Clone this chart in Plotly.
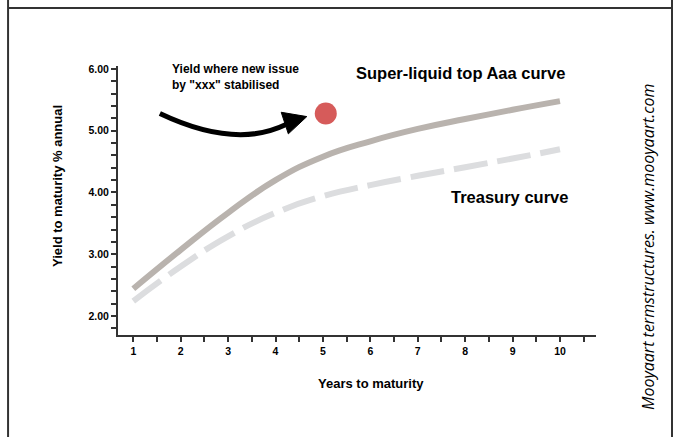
import plotly.graph_objects as go

# Term structure data (years to maturity vs yield, % annual)
years = [1, 2, 3, 4, 5, 6, 7, 8, 9, 10]
aaa_yield = [2.44, 3.07, 3.67, 4.20, 4.58, 4.83, 5.03, 5.19, 5.34, 5.48]
treasury_yield = [2.24, 2.80, 3.29, 3.67, 3.94, 4.12, 4.27, 4.41, 4.55, 4.70]

# New issue stabilisation point
issue_year = [5.06]
issue_yield = [5.28]

x_range = [0.677, 10.76]
y_range = [1.69, 6.05]

FONT = "Liberation Sans"

fig = go.Figure()

fig.add_trace(go.Scatter(
    x=years, y=treasury_yield, mode="lines",
    line=dict(color="#dcdddf", width=6, dash="34px,10px", shape="spline", smoothing=1.3),
    hoverinfo="skip", showlegend=False,
))
fig.add_trace(go.Scatter(
    x=years, y=aaa_yield, mode="lines",
    line=dict(color="#b9b3ae", width=6, shape="spline", smoothing=1.3),
    hoverinfo="skip", showlegend=False,
))
fig.add_trace(go.Scatter(
    x=issue_year, y=issue_yield, mode="markers",
    marker=dict(color="#d65b5a", size=22, line=dict(width=0)),
    hoverinfo="skip", showlegend=False,
))

# Curved arrow pointing at the new issue
fig.add_shape(type="path", xref="x", yref="y",
              path="M 1.56 5.28 Q 3.15 4.70 4.22 5.10",
              line=dict(color="black", width=5))
fig.add_shape(type="path", xref="x", yref="y",
              path="M 4.66 5.23 L 4.12 5.30 L 4.27 4.95 Z",
              fillcolor="black", line=dict(color="black", width=1))

# Outer frame
frame = dict(color="#333333", width=2)
fig.add_shape(type="line", xref="paper", yref="paper", x0=-0.230, x1=-0.230, y0=-0.40, y1=1.26, line=frame)
fig.add_shape(type="line", xref="paper", yref="paper", x0=1.159, x1=1.159, y0=-0.40, y1=1.26, line=frame)
fig.add_shape(type="line", xref="paper", yref="paper", x0=-0.230, x1=1.159, y0=1.2156, y1=1.2156, line=frame)

bold = dict(family=FONT, color="black", weight="bold")

annotations = [
    dict(text="Yield where new issue<br>by \"xxx\" stabilised", x=(170 - 118) / 478, y=(335 - 77) / 269,
         xanchor="left", yanchor="middle", align="left",
         font=dict(size=12, **bold)),
    dict(text="Super-liquid top Aaa curve", x=(460 - 118) / 478, y=(335 - 73) / 269,
         xanchor="center", yanchor="middle", font=dict(size=16.5, **bold)),
    dict(text="Treasury curve", x=(509 - 118) / 478, y=(335 - 197) / 269,
         xanchor="center", yanchor="middle", font=dict(size=16.5, **bold)),
    dict(text="Yield to maturity % annual", x=(57 - 118) / 478, y=(335 - 186) / 269,
         xanchor="center", yanchor="middle", textangle=-90, font=dict(size=13, **bold)),
    dict(text="Years to maturity", x=(371 - 118) / 478, y=(335 - 383) / 269,
         xanchor="center", yanchor="middle", font=dict(size=13, **bold)),
    dict(text="Mooyaart termstructures. www.mooyaart.com", x=(648 - 118) / 478, y=(335 - 247) / 269,
         xanchor="center", yanchor="middle", textangle=-90,
         font=dict(size=16, family="Open Sans", color="black", style="italic")),
]
for a in annotations:
    a.update(xref="paper", yref="paper", showarrow=False)

axis_common = dict(
    showgrid=False, zeroline=False, showline=True, linecolor="#333333", linewidth=2,
    ticks="outside", ticklen=5, tickwidth=1.5, tickcolor="#333333",
    tickfont=dict(size=10.5, **bold),
)
minor_common = dict(ticks="outside", ticklen=5, tickwidth=1.5, tickcolor="#333333")

fig.update_layout(
    width=675, height=437,
    margin=dict(l=118, r=79, t=66, b=102),
    paper_bgcolor="white", plot_bgcolor="white",
    annotations=annotations,
    xaxis=dict(range=x_range, tickmode="array", tickvals=years,
               minor=dict(tickmode="array", tickvals=[x + 0.5 for x in range(0, 11)], **minor_common),
               **axis_common),
    yaxis=dict(range=y_range, tickmode="array", tickvals=[2, 3, 4, 5, 6], tickformat=".2f",
               minor=dict(tickmode="array", tickvals=[round(1.8 + 0.2 * i, 1) for i in range(22)],
                          **minor_common),
               **axis_common),
)

fig.write_html("out.html")
